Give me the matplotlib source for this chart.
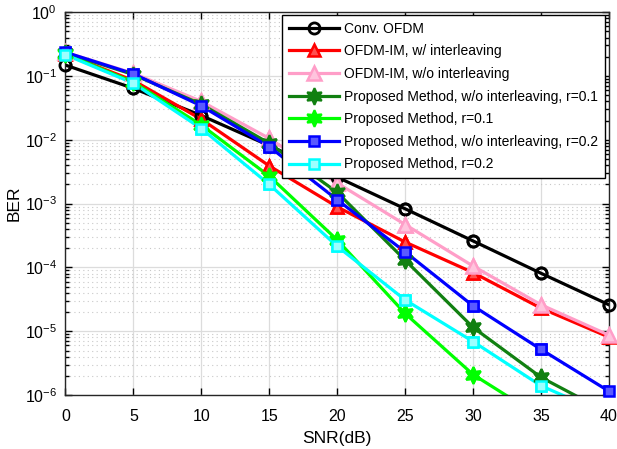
import numpy as np
import matplotlib
matplotlib.use("Agg")
import matplotlib.pyplot as plt
from matplotlib.ticker import LogLocator, NullFormatter

plt.rcParams['font.family'] = ['Liberation Sans', 'DejaVu Sans']

# ---- datos BER vs SNR ----
snr = [0, 5, 10, 15, 20, 25, 30, 35, 40]

ber_conv = [0.148, 0.064, 0.024, 0.0081, 0.0026, 8.3e-4, 2.6e-4, 8.1e-5, 2.6e-5]
ber_im_int = [0.22, 0.085, 0.021, 3.9e-3, 8.9e-4, 2.5e-4, 8.3e-5, 2.3e-5, 8.1e-6]
ber_im_noint = [0.235, 0.11, 0.04, 0.0105, 2.1e-3, 4.7e-4, 1.05e-4, 2.6e-5, 8.7e-6]
ber_p01_noint = [0.23, 0.105, 0.036, 0.0088, 1.5e-3, 1.3e-4, 1.15e-5, 1.9e-6, 5.2e-7]
ber_p01 = [0.22, 0.08, 0.017, 2.7e-3, 2.7e-4, 1.9e-5, 2.1e-6, 4.5e-7]
ber_p02_noint = [0.235, 0.108, 0.034, 0.0078, 1.15e-3, 1.75e-4, 2.5e-5, 5.2e-6, 1.15e-6]
ber_p02 = [0.215, 0.077, 0.015, 2.0e-3, 2.15e-4, 3.1e-5, 6.9e-6, 1.4e-6, 4.8e-7]

etiquetas = [
    'Conv. OFDM',
    'OFDM-IM, w/ interleaving',
    'OFDM-IM, w/o interleaving',
    'Proposed Method, w/o interleaving, r=0.1',
    'Proposed Method, r=0.1',
    'Proposed Method, w/o interleaving, r=0.2',
    'Proposed Method, r=0.2',
]

estrella = (6, 1, 0)  # estrella de 6 puntas

estilos = [
    (ber_conv, dict(color='black', marker='o', mfc='none', ms=8, mew=2)),
    (ber_im_int, dict(color='red', marker='^', mfc='#ff5050', ms=9, mew=1.8)),
    (ber_im_noint, dict(color='#ff9ec8', marker='^', mfc='#ffc4dd', ms=10, mew=1.8)),
    (ber_p01_noint, dict(color='#118011', marker=estrella, mfc='#118011', ms=12, mew=1.5)),
    (ber_p01, dict(color='#00ff00', marker=estrella, mfc='#00ff00', ms=12, mew=1.5)),
    (ber_p02_noint, dict(color='blue', marker='s', mfc='#5a5aff', ms=7.5, mew=1.8)),
    (ber_p02, dict(color='cyan', marker='s', mfc='#9cffff', ms=7.5, mew=1.8)),
]

fig = plt.figure(figsize=(6.17, 4.49), dpi=100)
ax = fig.add_axes([0.106, 0.12, 0.881, 0.853])

for (ber, kw), nombre in zip(estilos, etiquetas):
    x = snr[:len(ber)]
    ax.semilogy(x, ber, lw=2.3, label=nombre, **kw)
    # marcadores dentro del rango visibles completos en el borde
    xs = [a for a, b in zip(x, ber) if b >= 1e-6]
    ys = [b for b in ber if b >= 1e-6]
    ax.semilogy(xs, ys, ls='none', clip_on=False, zorder=3, **kw)

ax.set_xlim(0, 40)
ax.set_ylim(1e-6, 1)
ax.set_xticks(range(0, 41, 5))
ax.yaxis.set_major_locator(LogLocator(base=10, numticks=10))
ax.yaxis.set_minor_locator(LogLocator(base=10, subs=np.arange(2, 10), numticks=10))
ax.yaxis.set_minor_formatter(NullFormatter())

ax.grid(True, which='major', color='#dcdcdc', lw=0.9, ls='-')
ax.grid(True, which='minor', axis='y', color='#c8c8c8', lw=0.8, ls=(0, (1, 3)))
ax.set_axisbelow(True)

ax.tick_params(which='both', direction='in', top=True, right=True, labelsize=11.5, width=1)
ax.tick_params(which='major', length=5)
ax.tick_params(which='minor', length=3)
ax.tick_params(axis='x', pad=10)
ax.tick_params(axis='y', pad=6)
for s in ax.spines.values():
    s.set_linewidth(1.0)
    s.set_color('#262626')

ax.set_xlabel('SNR(dB)', fontsize=12.5, labelpad=5)
ax.set_ylabel('BER', fontsize=12.5, labelpad=2)

leg = ax.legend(loc='upper right', bbox_to_anchor=(0.992, 0.993), fontsize=10,
                fancybox=False, framealpha=1, edgecolor='black', handlelength=3.6,
                handletextpad=0.3, labelspacing=0.62, borderpad=0.5, borderaxespad=0)
leg.get_frame().set_linewidth(1.0)

fig.savefig('out.png', dpi=100)
